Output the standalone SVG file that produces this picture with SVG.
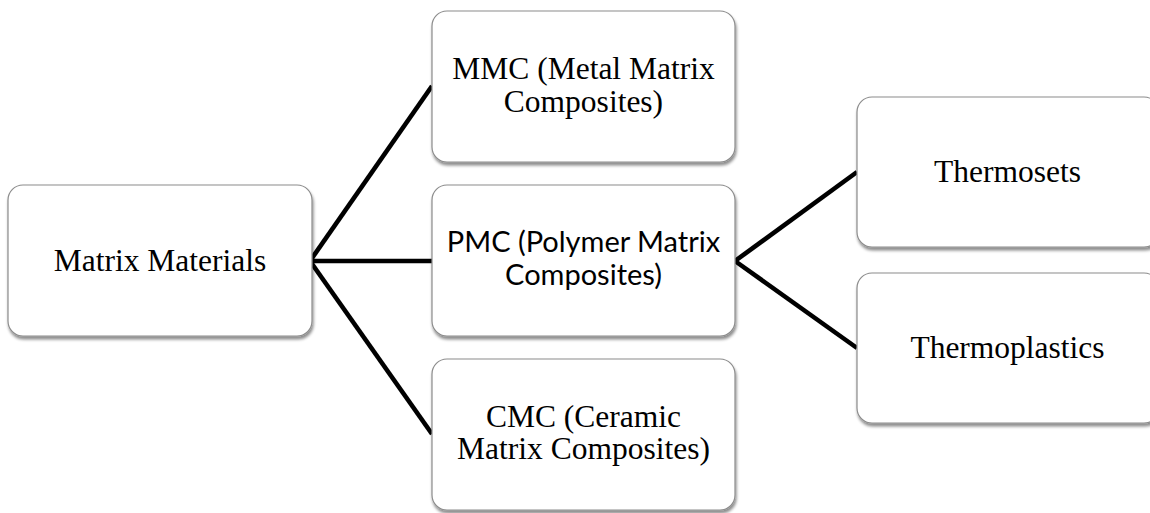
<svg xmlns="http://www.w3.org/2000/svg" width="1150" height="513" viewBox="0 0 1150 513">
<defs>
<filter id="sh" x="-10%" y="-10%" width="120%" height="130%">
<feDropShadow dx="1" dy="3" stdDeviation="1.8" flood-color="#000" flood-opacity="0.45"/>
</filter>
<style>
.box{fill:#fff;stroke:#8c8c8c;stroke-width:1.2;filter:url(#sh)}
.serif{font-family:"Liberation Serif","Times New Roman",serif;font-size:31.5px;fill:#000;text-anchor:middle}
.sans{font-family:Lato,"Carlito","Liberation Sans",sans-serif;font-size:29px;fill:#000;text-anchor:middle}
.con{stroke:#000;stroke-width:4.6;fill:none;stroke-linecap:butt}
</style>
</defs>
<rect width="1150" height="513" fill="#fff"/>
<g id="connectors">
<line class="con" x1="310" y1="261" x2="432" y2="86"/>
<line class="con" x1="310" y1="261" x2="432" y2="261"/>
<line class="con" x1="310" y1="261" x2="432" y2="434"/>
<line class="con" x1="735" y1="261" x2="857" y2="172"/>
<line class="con" x1="735" y1="261" x2="857" y2="348"/>
</g>
<g id="matrix-materials">
<rect class="box" x="8" y="185" width="304" height="151" rx="15"/>
<text class="serif" x="160" y="271">Matrix Materials</text>
</g>
<g id="mmc">
<rect class="box" x="432" y="11" width="303" height="151" rx="15"/>
<text class="serif"><tspan x="583.5" y="79">MMC (Metal Matrix</tspan><tspan x="583.5" y="111.5">Composites)</tspan></text>
</g>
<g id="pmc">
<rect class="box" x="432" y="185" width="303" height="151" rx="15"/>
<text class="sans"><tspan x="583.5" y="251.5">PMC (Polymer Matrix</tspan><tspan x="583.5" y="284.5">Composites)</tspan></text>
</g>
<g id="cmc">
<rect class="box" x="432" y="359" width="303" height="151" rx="15"/>
<text class="serif"><tspan x="583.5" y="427">CMC (Ceramic</tspan><tspan x="583.5" y="459">Matrix Composites)</tspan></text>
</g>
<g id="thermosets">
<rect class="box" x="857" y="97" width="302" height="150" rx="15"/>
<text class="serif" x="1007.5" y="182">Thermosets</text>
</g>
<g id="thermoplastics">
<rect class="box" x="857" y="273" width="302" height="150" rx="15"/>
<text class="serif" x="1007.5" y="358">Thermoplastics</text>
</g>
</svg>
